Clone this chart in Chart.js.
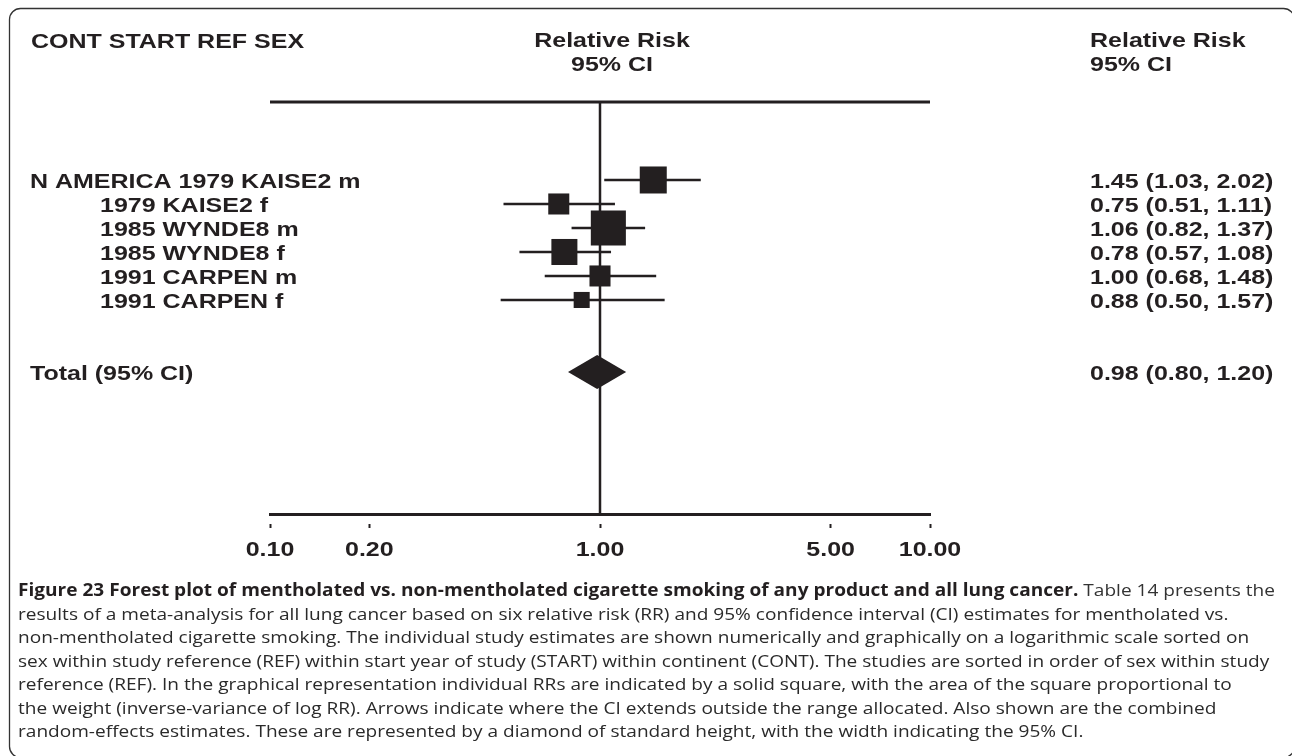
<!DOCTYPE html>
<html>
<head>
<meta charset="utf-8">
<script src="https://cdn.jsdelivr.net/npm/chart.js@4.4.1/dist/chart.umd.min.js"></script>
<style>
  html, body { margin: 0; padding: 0; background: #fff; }
  canvas { display: block; }
</style>
</head>
<body>
<canvas id="forest" width="1292" height="756"></canvas>
<script>
// dados do forest plot
const studyLabels = ['N AMERICA 1979 KAISE2 m', '1979 KAISE2 f', '1985 WYNDE8 m', '1985 WYNDE8 f', '1991 CARPEN m', '1991 CARPEN f'];
const rr = [1.45, 0.75, 1.06, 0.78, 1.00, 0.88];
const ciLow = [1.03, 0.51, 0.82, 0.57, 0.68, 0.50];
const ciHigh = [2.02, 1.11, 1.37, 1.08, 1.48, 1.57];
const weights = [19.3, 11.7, 32.5, 17.9, 11.7, 6.8]; // % peso (area do quadrado)

const totalLabel = 'Total (95% CI)';
const totalRR = [0.98];
const totalLow = [0.80];
const totalHigh = [1.20];

const tickValues = [0.1, 0.2, 1, 5, 10];

const headLeft = 'CONT START REF SEX';
const headMid = ['Relative Risk', '95% CI'];
const headRight = ['Relative Risk', '95% CI'];

const captionBold = 'Figure 23 Forest plot of mentholated vs. non-mentholated cigarette smoking of any product and all lung cancer.';
const captionLines = [
  ' Table 14 presents the',
  'results of a meta-analysis for all lung cancer based on six relative risk (RR) and 95% confidence interval (CI) estimates for mentholated vs.',
  'non-mentholated cigarette smoking. The individual study estimates are shown numerically and graphically on a logarithmic scale sorted on',
  'sex within study reference (REF) within start year of study (START) within continent (CONT). The studies are sorted in order of sex within study',
  'reference (REF). In the graphical representation individual RRs are indicated by a solid square, with the area of the square proportional to',
  'the weight (inverse-variance of log RR). Arrows indicate where the CI extends outside the range allocated. Also shown are the combined',
  'random-effects estimates. These are represented by a diamond of standard height, with the width indicating the 95% CI.'
];

const INK = '#231f20';
const BOLD = 'bold 21px "Liberation Sans", Arial, sans-serif';
const STRETCH = 1.19;
const totalRow = studyLabels.length + 2;

function fmt(v) { return v.toFixed(2); }

// texto bold esticado na horizontal (como na figura original)
function drawText(ctx, text, x, y, align) {
  ctx.save();
  ctx.translate(x, y);
  ctx.scale(STRETCH, 1);
  ctx.font = BOLD;
  ctx.fillStyle = INK;
  ctx.textAlign = align || 'left';
  ctx.textBaseline = 'alphabetic';
  ctx.fillText(text, 0, 0);
  ctx.restore();
}

const forestPlugin = {
  id: 'forest',
  beforeDatasetsDraw(chart) {
    const ctx = chart.ctx;
    const x = chart.scales.x;
    const y = chart.scales.y;
    const area = chart.chartArea;
    ctx.save();
    ctx.strokeStyle = INK;
    // linha de cima
    ctx.lineWidth = 3;
    ctx.beginPath();
    ctx.moveTo(area.left, area.top);
    ctx.lineTo(area.right, area.top);
    ctx.stroke();
    // linha vertical em RR = 1
    ctx.lineWidth = 2.5;
    ctx.beginPath();
    ctx.moveTo(x.getPixelForValue(1), area.top);
    ctx.lineTo(x.getPixelForValue(1), area.bottom);
    ctx.stroke();
    // intervalos de confianca
    ctx.lineWidth = 2.5;
    rr.forEach((v, i) => {
      const py = y.getPixelForValue(i);
      ctx.beginPath();
      ctx.moveTo(x.getPixelForValue(ciLow[i]), py);
      ctx.lineTo(x.getPixelForValue(ciHigh[i]), py);
      ctx.stroke();
    });
    ctx.restore();
  },
  afterDraw(chart) {
    const ctx = chart.ctx;
    const x = chart.scales.x;
    const y = chart.scales.y;
    const area = chart.chartArea;

    // diamante do total
    const ty = y.getPixelForValue(totalRow);
    const half = 17;
    ctx.save();
    ctx.fillStyle = INK;
    ctx.beginPath();
    ctx.moveTo(x.getPixelForValue(totalLow[0]), ty);
    ctx.lineTo(x.getPixelForValue(totalRR[0]), ty - half);
    ctx.lineTo(x.getPixelForValue(totalHigh[0]), ty);
    ctx.lineTo(x.getPixelForValue(totalRR[0]), ty + half);
    ctx.closePath();
    ctx.fill();
    ctx.restore();

    // cabecalhos
    drawText(ctx, headLeft, 31, 48, 'left');
    drawText(ctx, headMid[0], 612, 47, 'center');
    drawText(ctx, headMid[1], 612, 71, 'center');
    drawText(ctx, headRight[0], 1090, 47, 'left');
    drawText(ctx, headRight[1], 1090, 71, 'left');

    // linhas dos estudos
    studyLabels.forEach((lab, i) => {
      const py = y.getPixelForValue(i) + 8;
      drawText(ctx, lab, i === 0 ? 30 : 100, py, 'left');
      drawText(ctx, fmt(rr[i]) + ' (' + fmt(ciLow[i]) + ', ' + fmt(ciHigh[i]) + ')', 1090, py, 'left');
    });
    drawText(ctx, totalLabel, 30, ty + 8, 'left');
    drawText(ctx, fmt(totalRR[0]) + ' (' + fmt(totalLow[0]) + ', ' + fmt(totalHigh[0]) + ')', 1090, ty + 8, 'left');

    // rotulos do eixo x
    x.ticks.forEach(t => {
      drawText(ctx, fmt(t.value), x.getPixelForValue(t.value), area.bottom + 42, 'center');
    });

    // legenda da figura
    ctx.save();
    const boldFont = 'bold 17px "Open Sans", "Noto Sans", sans-serif';
    const regFont = '17px "Open Sans", "Noto Sans", sans-serif';
    ctx.font = boldFont;
    const wb = ctx.measureText(captionBold).width;
    ctx.font = regFont;
    const wr = ctx.measureText(captionLines[0]).width;
    const k = (1275 - 18) / (wb + wr);
    ctx.fillStyle = '#2a2a2a';
    ctx.textBaseline = 'alphabetic';
    captionLines.forEach((line, i) => {
      ctx.save();
      ctx.translate(18, 596 + i * 23.5);
      ctx.scale(k, 1);
      let off = 0;
      if (i === 0) {
        ctx.font = boldFont;
        ctx.fillStyle = INK;
        ctx.fillText(captionBold, 0, 0);
        off = wb;
        ctx.fillStyle = '#333';
      }
      ctx.font = regFont;
      ctx.fillText(line, off, 0);
      ctx.restore();
    });
    ctx.restore();

    // moldura arredondada
    ctx.save();
    ctx.strokeStyle = '#333';
    ctx.lineWidth = 1.3;
    ctx.beginPath();
    ctx.roundRect(9.5, 8.5, 1285, 749, 11);
    ctx.stroke();
    ctx.restore();
  }
};

const js_forest = document.getElementById('forest');

new Chart(js_forest, {
  type: 'scatter',
  data: {
    datasets: [{
      label: 'RR',
      data: rr.map((v, i) => ({ x: v, y: i })),
      pointStyle: 'rect',
      pointRadius: weights.map(w => Math.sqrt(w) * 6.15 / Math.SQRT2),
      pointHoverRadius: weights.map(w => Math.sqrt(w) * 6.15 / Math.SQRT2),
      backgroundColor: INK,
      borderWidth: 0
    }]
  },
  options: {
    responsive: false,
    animation: false,
    events: [],
    layout: { padding: { left: 270, right: 362, top: 102, bottom: 0 } },
    scales: {
      x: {
        type: 'logarithmic',
        min: 0.1,
        max: 10,
        afterBuildTicks: (s) => { s.ticks = tickValues.map(v => ({ value: v })); },
        afterFit: (s) => { s.height = 242; },
        ticks: { display: false },
        grid: {
          drawOnChartArea: false,
          tickLength: 14,
          tickWidth: 2,
          tickColor: INK,
          tickBorderDash: [6, 8],
          tickBorderDashOffset: 6
        },
        border: { display: true, width: 3, color: INK }
      },
      y: {
        display: false,
        reverse: true,
        min: -3.25,
        max: 13.92
      }
    },
    plugins: {
      legend: { display: false },
      tooltip: { enabled: false }
    }
  },
  plugins: [forestPlugin]
});
</script>
</body>
</html>
